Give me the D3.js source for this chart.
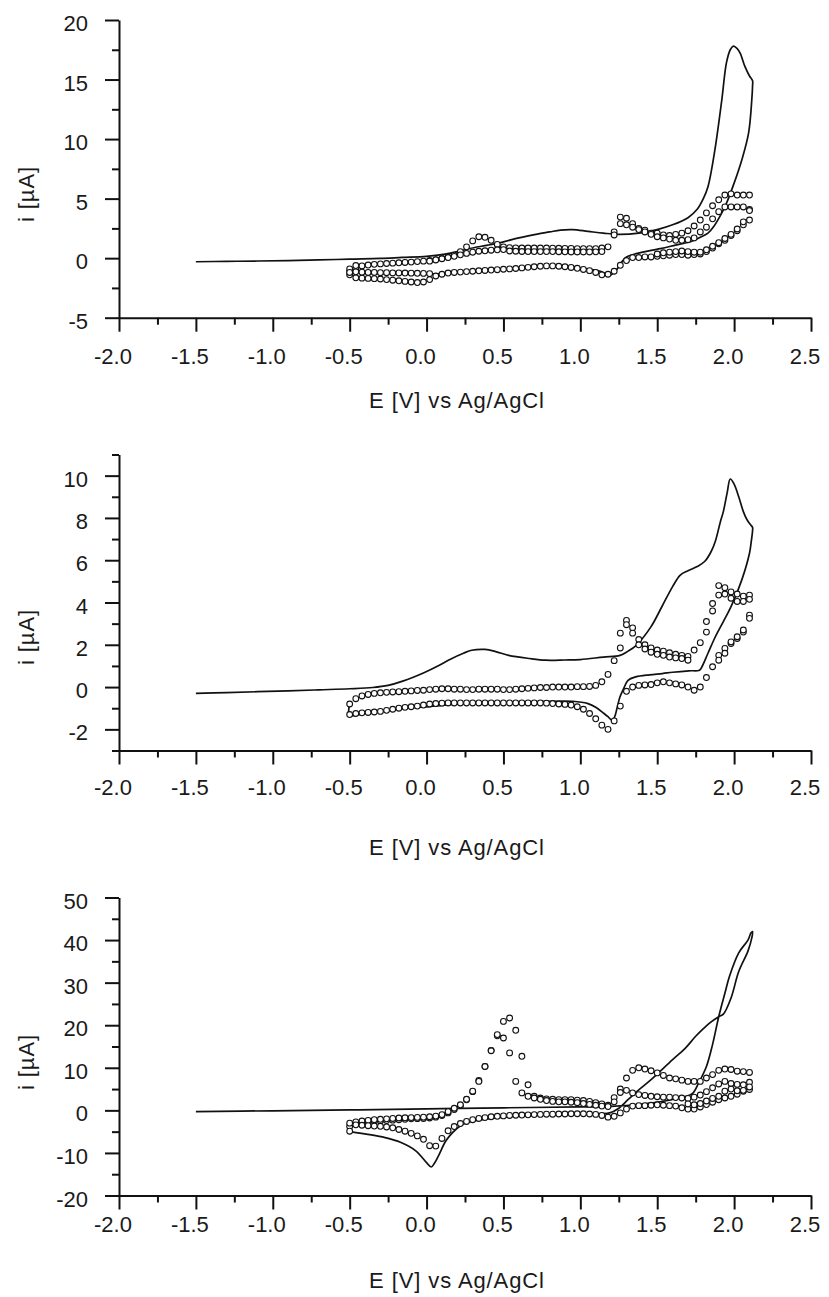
<!DOCTYPE html>
<html><head><meta charset="utf-8">
<script src="https://cdn.jsdelivr.net/npm/d3@7"></script>
<style>
body{margin:0;background:#fff;}
svg text{font-family:"Liberation Sans",Arial,Helvetica,sans-serif;fill:#1a1a1a;}
</style></head><body>
<svg id="c" width="829" height="1297"></svg>
<script>
// ---------- shared axis data ----------
const xMajorTicks = [-2.0,-1.5,-1.0,-0.5,0.0,0.5,1.0,1.5,2.0,2.5];
const xMajorLabels = ["-2.0","-1.5","-1.0","-0.5","0.0","0.5","1.0","1.5","2.0","2.5"];
const xMinorTicks = [-1.75,-1.25,-0.75,-0.25,0.25,0.75,1.25,1.75,2.25];
const xTitle = "E [V] vs Ag/AgCl";
const yTitle = "i [\u00b5A]";

// potential grid of the circle-marker scans (V)
const potentialGrid = [-0.50,-0.46,-0.42,-0.38,-0.34,-0.30,-0.26,-0.22,-0.18,-0.14,
 -0.10,-0.06,-0.02,0.02,0.06,0.10,0.14,0.18,0.22,0.26,
 0.30,0.34,0.38,0.42,0.46,0.50,0.54,0.58,0.62,0.66,
 0.70,0.74,0.78,0.82,0.86,0.90,0.94,0.98,1.02,1.06,
 1.10,1.14,1.18,1.22,1.26,1.30,1.34,1.38,1.42,1.46,
 1.50,1.54,1.58,1.62,1.66,1.70,1.74,1.78,1.82,1.86,
 1.90,1.94,1.98,2.02,2.06,2.10];

// ---------- panel 1 ----------
const p1YMajor = [-5,0,5,10,15,20];
const p1YMinor = [-2.5,2.5,7.5,12.5,17.5];
const p1Line = [[-1.5,-0.3],[-1.3,-0.27],[-1.1,-0.24],[-0.9,-0.2],[-0.7,-0.15],[-0.5,-0.08],[-0.3,-0.02],[-0.16,0.06],[0.0,0.15],[0.12,0.34],[0.2,0.55],[0.28,0.81],[0.4,1.1],[0.5,1.37],[0.6,1.7],[0.72,2.02],[0.8,2.2],[0.87,2.36],[0.95,2.4],[1.05,2.25],[1.15,2.1],[1.25,2.0],[1.38,2.1],[1.5,2.4],[1.6,2.8],[1.7,3.4],[1.76,4.1],[1.8,5.0],[1.83,6.0],[1.875,9.1],[1.92,13.3],[1.95,16.4],[1.975,17.5],[1.995,17.8],[2.02,17.6],[2.04,17.2],[2.07,16.1],[2.1,15.3],[2.12,14.9],
 [2.12,14.5],[2.115,13.3],[2.094,10.5],[2.05,8.25],[2.0,6.3],[1.95,4.6],[1.92,3.8],[1.87,2.7],[1.83,2.1],[1.77,1.7],[1.72,1.4],[1.62,1.1],[1.52,0.8],[1.37,0.4],[1.3,0.1],[1.27,-0.3],[1.24,-0.9],[1.21,-1.3],[1.19,-1.43],[1.13,-1.1],[1.02,-0.87],[0.95,-0.7],[0.8,-0.62],[0.6,-0.82],[0.4,-1.0],[0.2,-1.15],[0.1,-1.3],[0.0,-1.35],[-0.2,-1.3],[-0.4,-1.28],[-0.5,-1.2]];
const p1Fwd1 = [-1.15,-0.87,-0.65,-0.58,-0.52,-0.48,-0.45,-0.42,-0.39,-0.36,
 -0.33,-0.29,-0.25,-0.2,-0.12,-0.02,0.08,0.25,0.55,0.95,
 1.45,1.8,1.75,1.5,1.15,0.95,0.88,0.86,0.85,0.85,
 0.85,0.85,0.85,0.84,0.83,0.82,0.82,0.8,0.8,0.8,
 0.8,0.85,0.95,2.2,3.45,3.35,2.9,2.5,2.35,2.1,
 2.1,1.95,1.9,2.0,2.1,2.3,2.7,3.2,3.8,4.4,
 4.9,5.3,5.4,5.3,5.3,5.3];
const p1Fwd2 = [-0.9,-0.62,null,null,null,null,null,null,null,null,
 null,null,null,-0.25,-0.15,-0.05,0.05,0.15,0.28,0.4,
 0.5,0.58,0.62,0.67,0.7,0.72,0.6,0.58,0.56,0.55,
 0.55,0.55,0.55,0.55,0.54,0.53,0.52,0.52,0.52,0.52,
 0.53,0.55,null,1.95,2.9,2.8,2.6,2.4,2.2,2.0,
 1.8,1.7,1.6,1.5,1.5,1.55,1.7,2.2,2.6,3.3,
 3.9,4.3,4.3,4.3,4.3,4.1];
const p1Rev1 = [-1.4,-1.65,-1.68,-1.7,-1.72,-1.75,-1.8,-1.85,-1.9,-1.95,
 -2.0,-2.05,-2.0,-1.8,-1.5,-1.35,-1.25,-1.2,-1.17,-1.13,
 -1.1,-1.06,-1.03,-1.0,-0.97,-0.93,-0.9,-0.87,-0.82,-0.77,
 -0.72,-0.68,-0.65,-0.65,-0.68,-0.72,-0.78,-0.85,-0.95,-1.05,
 -1.2,-1.4,-1.35,-1.1,-0.6,-0.2,0.05,0.05,0.1,0.1,
 0.15,0.2,0.25,0.3,0.3,0.25,0.3,0.35,0.55,0.85,
 1.2,1.5,1.9,2.3,2.8,3.2];
const p1Rev2 = [-1.2,-1.15,-1.18,-1.2,-1.2,-1.22,-1.22,-1.24,-1.24,-1.25,
 -1.26,-1.27,-1.28,-1.3,null,null,null,null,null,null,
 null,null,null,null,null,null,null,null,null,null,
 null,null,null,null,null,null,null,null,null,null,
 null,null,null,null,null,null,null,null,null,null,
 0.35,0.45,0.5,0.55,0.6,0.55,0.5,0.5,0.7,1.0,
 1.3,1.65,2.0,2.45,3.05,4.0];

// ---------- panel 2 ----------
const p2YMajor = [-2,0,2,4,6,8,10];
const p2YMinor = [-3,-1,1,3,5,7,9,11];
const p2Line = [[-1.5,-0.3],[-1.3,-0.26],[-1.1,-0.22],[-0.9,-0.18],[-0.7,-0.13],[-0.5,-0.08],[-0.35,-0.02],[-0.25,0.08],[-0.155,0.28],[-0.017,0.68],[0.08,1.02],[0.155,1.32],[0.24,1.6],[0.293,1.74],[0.38,1.78],[0.45,1.68],[0.534,1.5],[0.67,1.35],[0.775,1.27],[0.9,1.28],[1.0,1.3],[1.15,1.42],[1.258,1.5],[1.31,1.7],[1.36,1.95],[1.46,2.86],[1.53,3.8],[1.6,4.75],[1.65,5.3],[1.7,5.5],[1.76,5.7],[1.81,5.95],[1.85,6.4],[1.878,6.9],[1.91,7.8],[1.93,8.3],[1.955,9.2],[1.975,9.84],[2.0,9.6],[2.03,9.0],[2.06,8.3],[2.085,7.9],[2.11,7.65],[2.12,7.55],
 [2.12,7.4],[2.11,6.8],[2.1,6.33],[2.05,5.07],[1.98,3.8],[1.93,3.1],[1.878,2.38],[1.83,1.6],[1.79,0.95],[1.775,0.8],[1.706,0.77],[1.6,0.7],[1.533,0.64],[1.45,0.58],[1.36,0.48],[1.31,0.32],[1.28,-0.1],[1.258,-0.46],[1.24,-0.95],[1.223,-1.41],[1.206,-1.57],[1.18,-1.4],[1.154,-1.25],[1.1,-0.95],[1.05,-0.78],[0.95,-0.67],[0.67,-0.7],[0.327,-0.75],[-0.017,-0.94],[-0.2,-1.05],[-0.362,-1.18],[-0.5,-1.33],[-0.5,-0.8]];
const p2Fwd1 = [-0.8,-0.55,-0.42,-0.35,-0.3,-0.27,-0.25,-0.23,-0.22,-0.2,
 -0.18,-0.16,-0.15,-0.12,-0.1,-0.08,-0.08,-0.1,-0.1,-0.12,
 -0.12,-0.1,-0.1,-0.1,-0.1,-0.12,-0.12,-0.1,-0.08,-0.06,
 -0.04,-0.02,-0.02,0.0,0.0,0.0,0.0,0.02,0.02,0.03,
 0.08,0.25,0.6,1.25,2.55,3.15,2.8,2.25,2.0,1.85,
 1.75,1.7,1.62,1.55,1.5,1.45,1.75,2.1,2.6,3.6,
 4.8,4.7,4.5,4.4,4.3,4.35];
const p2Fwd2 = [null,null,null,null,null,null,null,null,null,null,
 null,null,null,null,null,null,null,null,null,null,
 null,null,null,null,null,null,null,null,null,null,
 null,null,null,null,null,null,null,null,null,null,
 null,null,null,null,1.85,2.95,2.55,2.0,1.8,1.65,
 1.55,1.5,1.42,1.38,1.35,1.27,null,null,3.1,3.95,
 4.35,4.4,4.2,4.05,4.05,4.15];
const p2Rev1 = [-1.3,-1.25,-1.22,-1.2,-1.18,-1.15,-1.1,-1.05,-1.0,-0.96,
 -0.93,-0.9,-0.85,-0.8,-0.78,-0.76,-0.75,-0.75,-0.75,-0.75,
 -0.75,-0.75,-0.75,-0.75,-0.75,-0.75,-0.75,-0.75,-0.75,-0.75,
 -0.75,-0.75,-0.76,-0.78,-0.8,-0.82,-0.85,-0.93,-1.05,-1.25,
 -1.5,-1.8,-2.0,-1.6,-0.9,-0.2,0.0,0.08,0.1,0.12,
 0.2,0.25,0.2,0.15,0.1,0.0,-0.15,0.0,0.45,0.96,
 1.5,1.83,2.06,2.3,2.6,3.4];
const p2Rev2 = [null,null,null,null,null,null,null,null,null,null,
 null,null,null,null,null,null,null,null,null,null,
 null,null,null,null,null,null,null,null,null,null,
 null,null,null,null,null,null,null,null,null,null,
 null,null,null,null,null,null,null,null,null,null,
 null,null,null,null,null,null,null,null,null,null,
 1.27,1.6,2.14,2.38,2.7,3.25];

// ---------- panel 3 ----------
const p3YMajor = [-20,-10,0,10,20,30,40,50];
const p3YMinor = [-15,-5,5,15,25,35,45];
const p3Line = [[-1.5,-0.3],[-1.0,-0.1],[-0.5,0.1],[0.0,0.35],[0.5,0.6],[1.0,0.8],[1.2,0.95],[1.4,1.5],[1.55,2.2],[1.64,2.9],[1.68,3.2],[1.73,4.0],[1.77,6.5],[1.82,10.3],[1.86,15.5],[1.9,22.0],[1.94,27.5],[1.97,31.5],[2.03,37.0],[2.09,40.0],[2.11,41.7],[2.12,42.0],
 [2.115,40.5],[2.09,37.4],[2.03,32.6],[1.98,26.4],[1.93,22.6],[1.9,22.0],[1.84,20.5],[1.8,19.2],[1.75,17.4],[1.68,14.5],[1.6,11.9],[1.46,7.2],[1.38,4.8],[1.31,2.5],[1.25,0.5],[1.19,-0.6],[1.0,-0.8],[0.8,-1.0],[0.6,-1.3],[0.4,-2.0],[0.25,-3.0],[0.19,-4.5],[0.15,-6.0],[0.12,-7.5],[0.08,-10.5],[0.05,-12.5],[0.03,-13.3],[0.0,-12.3],[-0.07,-9.5],[-0.17,-7.5],[-0.27,-6.4],[-0.37,-5.7],[-0.5,-5.0]];
const p3Fwd1 = [-3.8,-3.2,-2.9,-2.7,-2.6,-2.5,-2.4,-2.3,-2.2,-2.1,
 -2.0,-1.95,-1.9,-1.8,-1.6,-1.2,-0.6,0.2,1.1,2.5,
 4.4,7.0,10.3,14.1,17.5,20.9,21.7,18.8,12.7,6.0,
 3.3,2.9,2.7,2.6,2.5,2.5,2.5,2.4,2.3,2.1,
 1.8,1.5,1.2,3.0,5.0,7.6,9.4,10.0,9.7,9.3,
 8.8,8.2,7.6,7.4,7.1,6.8,6.8,6.8,7.6,8.4,
 9.4,9.7,9.6,9.2,9.1,8.9];
const p3Fwd2 = [-3.0,-2.7,-2.5,-2.35,-2.2,-2.1,-2.0,-1.9,-1.8,-1.75,
 -1.7,-1.65,-1.6,-1.5,-1.35,-1.0,-0.3,0.5,1.3,2.6,
 4.5,6.8,10.3,14.0,17.8,17.0,13.5,6.8,4.1,3.3,
 2.9,2.6,2.3,2.1,2.0,2.0,1.9,1.8,1.6,1.4,
 1.2,1.0,0.9,2.0,4.2,4.7,4.1,3.7,3.5,3.3,
 3.2,3.1,3.1,3.0,2.9,2.8,3.1,3.6,4.4,5.3,
 6.2,6.8,6.3,6.1,6.0,6.6];
const p3Rev1 = [-4.9,-3.4,-3.5,-3.6,-3.7,-3.75,-3.9,-4.1,-4.5,-4.9,
 -5.4,-6.0,-6.8,-8.3,-8.4,-6.6,-4.8,-3.8,-3.1,-2.6,
 -2.2,-1.9,-1.7,-1.5,-1.4,-1.3,-1.2,-1.15,-1.1,-1.05,
 -1.0,-0.95,-0.9,-0.9,-0.85,-0.85,-0.8,-0.8,-0.8,-0.85,
 -0.95,-1.2,-1.6,-1.4,-0.6,0.3,1.0,1.1,1.1,1.2,
 1.3,1.2,1.1,1.0,0.6,0.3,0.3,0.8,1.35,1.9,
 2.5,2.9,3.3,3.8,4.5,4.9];
const p3Rev2 = [null,null,null,null,null,null,null,null,null,null,
 null,null,null,null,null,null,null,null,null,null,
 null,null,null,null,null,null,null,null,null,null,
 null,null,null,null,null,null,null,null,null,null,
 null,null,null,null,null,null,null,null,null,null,
 null,null,null,null,null,1.5,1.3,1.6,2.2,2.8,
 3.3,4.5,5.0,4.6,4.7,5.5];

// ---------- layout ----------
const X_RANGE = [119, 811];
const panels = [
  {yDomain:[-5,20], yRange:[317.7,20], yMajor:p1YMajor, yMinor:p1YMinor, line:p1Line,
   rows:[p1Fwd1,p1Fwd2,p1Rev1,p1Rev2], xLabelBase:364, titleBase:408, yTitleY:194},
  {yDomain:[-3,11], yRange:[750.5,454.5], yMajor:p2YMajor, yMinor:p2YMinor, line:p2Line,
   rows:[p2Fwd1,p2Fwd2,p2Rev1,p2Rev2], xLabelBase:795, titleBase:855, yTitleY:637},
  {yDomain:[-20,50], yRange:[1195.5,897.5], yMajor:p3YMajor, yMinor:p3YMinor, line:p3Line,
   rows:[p3Fwd1,p3Fwd2,p3Rev1,p3Rev2], xLabelBase:1232, titleBase:1288, yTitleY:1062}
];

const svg = d3.select("#c");
const ink = "#111";

panels.forEach(p => {
  const x = d3.scaleLinear().domain([-2, 2.5]).range(X_RANGE);
  const y = d3.scaleLinear().domain(p.yDomain).range(p.yRange);
  const g = svg.append("g");
  const x0 = X_RANGE[0], yBottom = p.yRange[0];

  g.append("g").attr("transform", `translate(${x0},0)`)
    .call(d3.axisLeft(y).tickValues(p.yMajor).tickSize(14).tickSizeOuter(0).tickFormat(""));
  const yAxMin = g.append("g").attr("transform", `translate(${x0},0)`)
    .call(d3.axisLeft(y).tickValues(p.yMinor).tickSize(7).tickSizeOuter(0).tickFormat(""));
  yAxMin.select(".domain").remove();

  g.append("g").attr("transform", `translate(0,${yBottom})`)
    .call(d3.axisBottom(x).tickValues(xMajorTicks).tickSize(14).tickSizeOuter(0).tickFormat(""));
  const xAxMin = g.append("g").attr("transform", `translate(0,${yBottom})`)
    .call(d3.axisBottom(x).tickValues(xMinorTicks).tickSize(7).tickSizeOuter(0).tickFormat(""));
  xAxMin.select(".domain").remove();

  g.selectAll(".domain, .tick line").attr("stroke", ink).attr("stroke-width", 2);

  g.selectAll(".ylab").data(p.yMajor).join("text")
    .attr("x", 88).attr("y", d => y(d) + 11)
    .attr("text-anchor", "end").attr("font-size", 22)
    .text(d => String(d));

  g.selectAll(".xlab").data(xMajorTicks).join("text")
    .attr("x", d => x(d) - 6).attr("y", p.xLabelBase)
    .attr("text-anchor", "middle").attr("font-size", 22)
    .text((d, i) => xMajorLabels[i]);

  g.append("text").attr("x", 457).attr("y", p.titleBase)
    .attr("text-anchor", "middle").attr("font-size", 22).attr("letter-spacing", 0.9)
    .text(xTitle);
  g.append("text").attr("transform", `translate(34,${p.yTitleY}) rotate(-90)`)
    .attr("text-anchor", "middle").attr("font-size", 22).attr("letter-spacing", 0.9)
    .text(yTitle);

  const lineGen = d3.line().x(d => x(d[0])).y(d => y(d[1])).curve(d3.curveCatmullRom.alpha(0.5));
  g.append("path").datum(p.line).attr("d", lineGen)
    .attr("fill", "none").attr("stroke", ink).attr("stroke-width", 1.7)
    .attr("stroke-linejoin", "round");

  p.rows.forEach(row => {
    const pts = row.map((v, k) => [potentialGrid[k], v]).filter(d => d[1] !== null);
    g.append("g").selectAll("circle").data(pts).join("circle")
      .attr("cx", d => x(d[0])).attr("cy", d => y(d[1])).attr("r", 2.9)
      .attr("fill", "#fff").attr("stroke", ink).attr("stroke-width", 1.1);
  });
});
</script>
</body></html>
